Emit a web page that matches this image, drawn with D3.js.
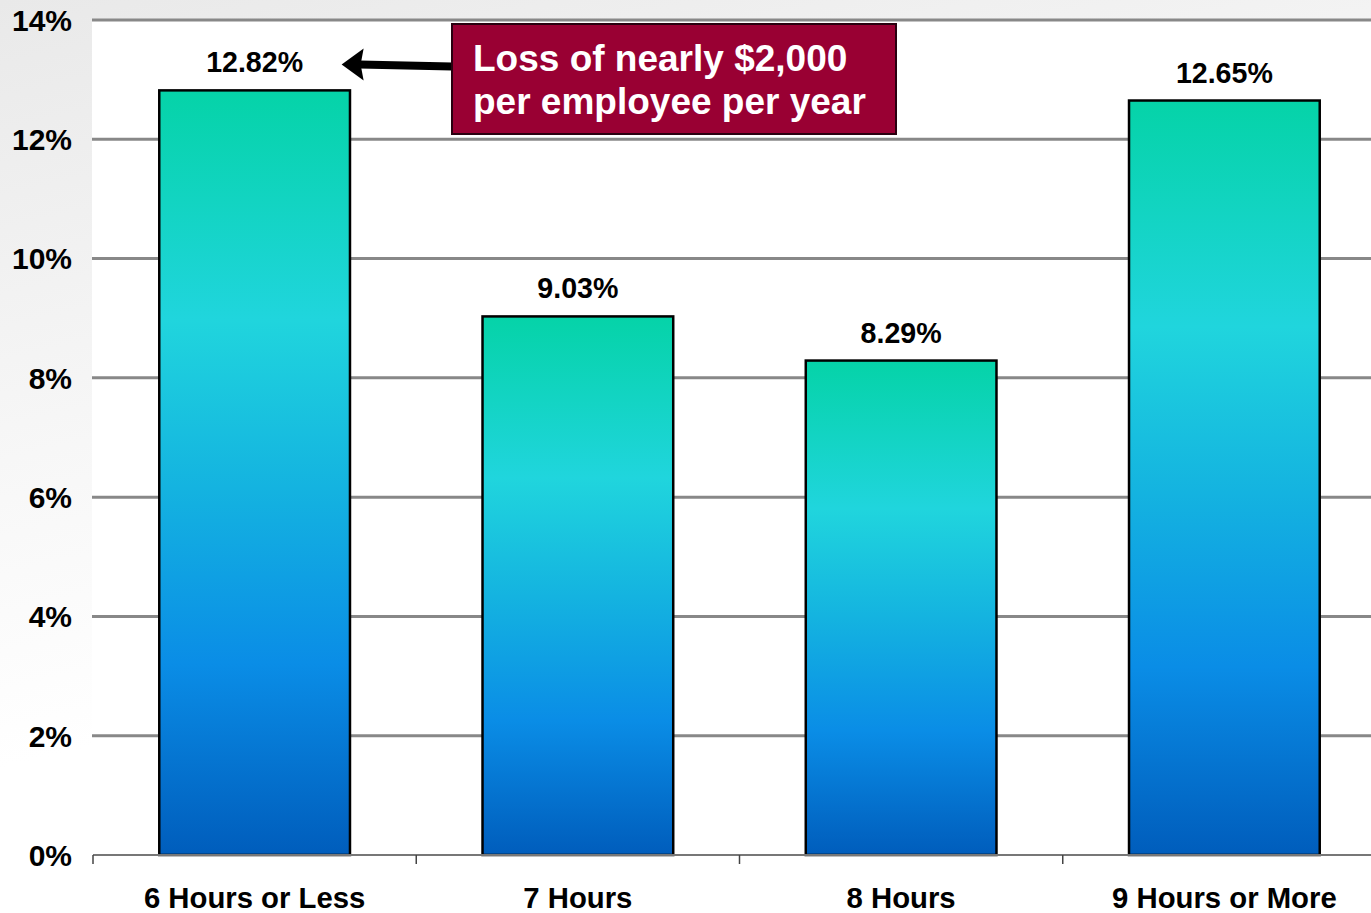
<!DOCTYPE html>
<html>
<head>
<meta charset="utf-8">
<script src="https://cdn.jsdelivr.net/npm/d3@7"></script>
<style>
  html, body { margin: 0; padding: 0; }
  body { width: 1371px; height: 913px; overflow: hidden; background: #fff; }
  svg { display: block; }
  text { font-family: "Liberation Sans", Arial, Helvetica, sans-serif; font-weight: bold; }
</style>
</head>
<body>
<svg id="chart" width="1371" height="913"></svg>
<script>
// Productivity loss by nightly sleep duration
const categories = ["6 Hours or Less", "7 Hours", "8 Hours", "9 Hours or More"];
const values = [12.82, 9.03, 8.29, 12.65];
const valueLabels = ["12.82%", "9.03%", "8.29%", "12.65%"];
const yTickValues = [0, 2, 4, 6, 8, 10, 12, 14];
const yTickLabels = ["0%", "2%", "4%", "6%", "8%", "10%", "12%", "14%"];
const calloutLines = ["Loss of nearly $2,000", "per employee per year"];

const W = 1371, H = 913;
const plot = { left: 93, right: 1386, top: 20, bottom: 855 };

const svg = d3.select("#chart");
const defs = svg.append("defs");

// soft slide background
const bg = defs.append("linearGradient").attr("id", "bgGrad")
  .attr("x1", 0).attr("y1", 0).attr("x2", 0.35).attr("y2", 1);
bg.append("stop").attr("offset", "0%").attr("stop-color", "#e9e9e9");
bg.append("stop").attr("offset", "45%").attr("stop-color", "#f7f7f7");
bg.append("stop").attr("offset", "75%").attr("stop-color", "#ffffff");
svg.append("rect").attr("width", W).attr("height", H).attr("fill", "url(#bgGrad)");

// bar fill: green at top, cyan, then deep blue at the base
const barGrad = defs.append("linearGradient").attr("id", "barGrad")
  .attr("x1", 0).attr("y1", 0).attr("x2", 0).attr("y2", 1);
[["0%", "#05d3a8"], ["30%", "#20d5dd"], ["52%", "#14b3e0"], ["75%", "#0a8de6"], ["100%", "#005dbc"]]
  .forEach(([o, c]) => barGrad.append("stop").attr("offset", o).attr("stop-color", c));

const x = d3.scaleBand().domain(categories)
  .range([plot.left, plot.right])
  .paddingInner(0.41).paddingOuter(0.205);
const step = x.step();
const y = d3.scaleLinear().domain([0, 14]).range([plot.bottom, plot.top]);

// white plot area
svg.append("rect")
  .attr("x", plot.left - 1).attr("y", plot.top)
  .attr("width", W - plot.left + 1).attr("height", H - plot.top)
  .attr("fill", "#ffffff");

// horizontal gridlines
svg.append("g").selectAll("line")
  .data(yTickValues.filter(v => v > 0))
  .join("line")
  .attr("x1", plot.left - 1).attr("x2", W)
  .attr("y1", d => y(d)).attr("y2", d => y(d))
  .attr("stroke", "#888888").attr("stroke-width", 3);

// y axis labels
svg.append("g").selectAll("text")
  .data(yTickValues)
  .join("text")
  .attr("x", 72).attr("y", d => y(d))
  .attr("dy", "0.36em")
  .attr("text-anchor", "end")
  .attr("font-size", 30)
  .attr("fill", "#000")
  .text((d, i) => yTickLabels[i]);

// bars
svg.append("g").selectAll("rect")
  .data(values)
  .join("rect")
  .attr("x", (d, i) => x(categories[i]))
  .attr("y", d => y(d))
  .attr("width", x.bandwidth())
  .attr("height", d => y(0) - y(d))
  .attr("fill", "url(#barGrad)")
  .attr("stroke", "#000").attr("stroke-width", 2.5);

// baseline axis with category boundary ticks
const axisG = svg.append("g");
axisG.append("line")
  .attr("x1", plot.left).attr("x2", W)
  .attr("y1", y(0)).attr("y2", y(0))
  .attr("stroke", "#777").attr("stroke-width", 2);
axisG.selectAll("line.tick")
  .data(d3.range(categories.length + 1))
  .join("line").attr("class", "tick")
  .attr("x1", i => plot.left + i * step).attr("x2", i => plot.left + i * step)
  .attr("y1", y(0)).attr("y2", y(0) + 9)
  .attr("stroke", "#444").attr("stroke-width", 1.5);

// category labels
svg.append("g").selectAll("text")
  .data(categories)
  .join("text")
  .attr("x", d => x(d) + x.bandwidth() / 2)
  .attr("y", 908)
  .attr("text-anchor", "middle")
  .attr("font-size", 29.3)
  .attr("fill", "#000")
  .text(d => d);

// value labels
svg.append("g").selectAll("text")
  .data(values)
  .join("text")
  .attr("x", (d, i) => x(categories[i]) + x.bandwidth() / 2)
  .attr("y", d => y(d) - 18)
  .attr("text-anchor", "middle")
  .attr("font-size", 28.6)
  .attr("fill", "#000")
  .text((d, i) => valueLabels[i]);

// callout arrow pointing at the first bar's label
const barTop0 = y(values[0]);
const tipX = x(categories[0]) + x.bandwidth() / 2 + 87;
const tipY = barTop0 - 26;
const arrow = svg.append("g");
arrow.append("line")
  .attr("x1", 452).attr("y1", tipY + 2)
  .attr("x2", tipX + 18).attr("y2", tipY)
  .attr("stroke", "#000").attr("stroke-width", 8);
arrow.append("path")
  .attr("d", `M${tipX},${tipY} L${tipX + 22},${tipY - 16} L${tipX + 19},${tipY} L${tipX + 22},${tipY + 16} Z`)
  .attr("fill", "#000");

// callout box
const box = svg.append("g");
box.append("rect")
  .attr("x", 452).attr("y", 24).attr("width", 444).attr("height", 110)
  .attr("fill", "#990033").attr("stroke", "#2a0010").attr("stroke-width", 2);
box.selectAll("text")
  .data(calloutLines)
  .join("text")
  .attr("x", 473)
  .attr("y", (d, i) => 71 + i * 43)
  .attr("font-size", 37)
  .attr("fill", "#ffffff")
  .text(d => d);
</script>
</body>
</html>
